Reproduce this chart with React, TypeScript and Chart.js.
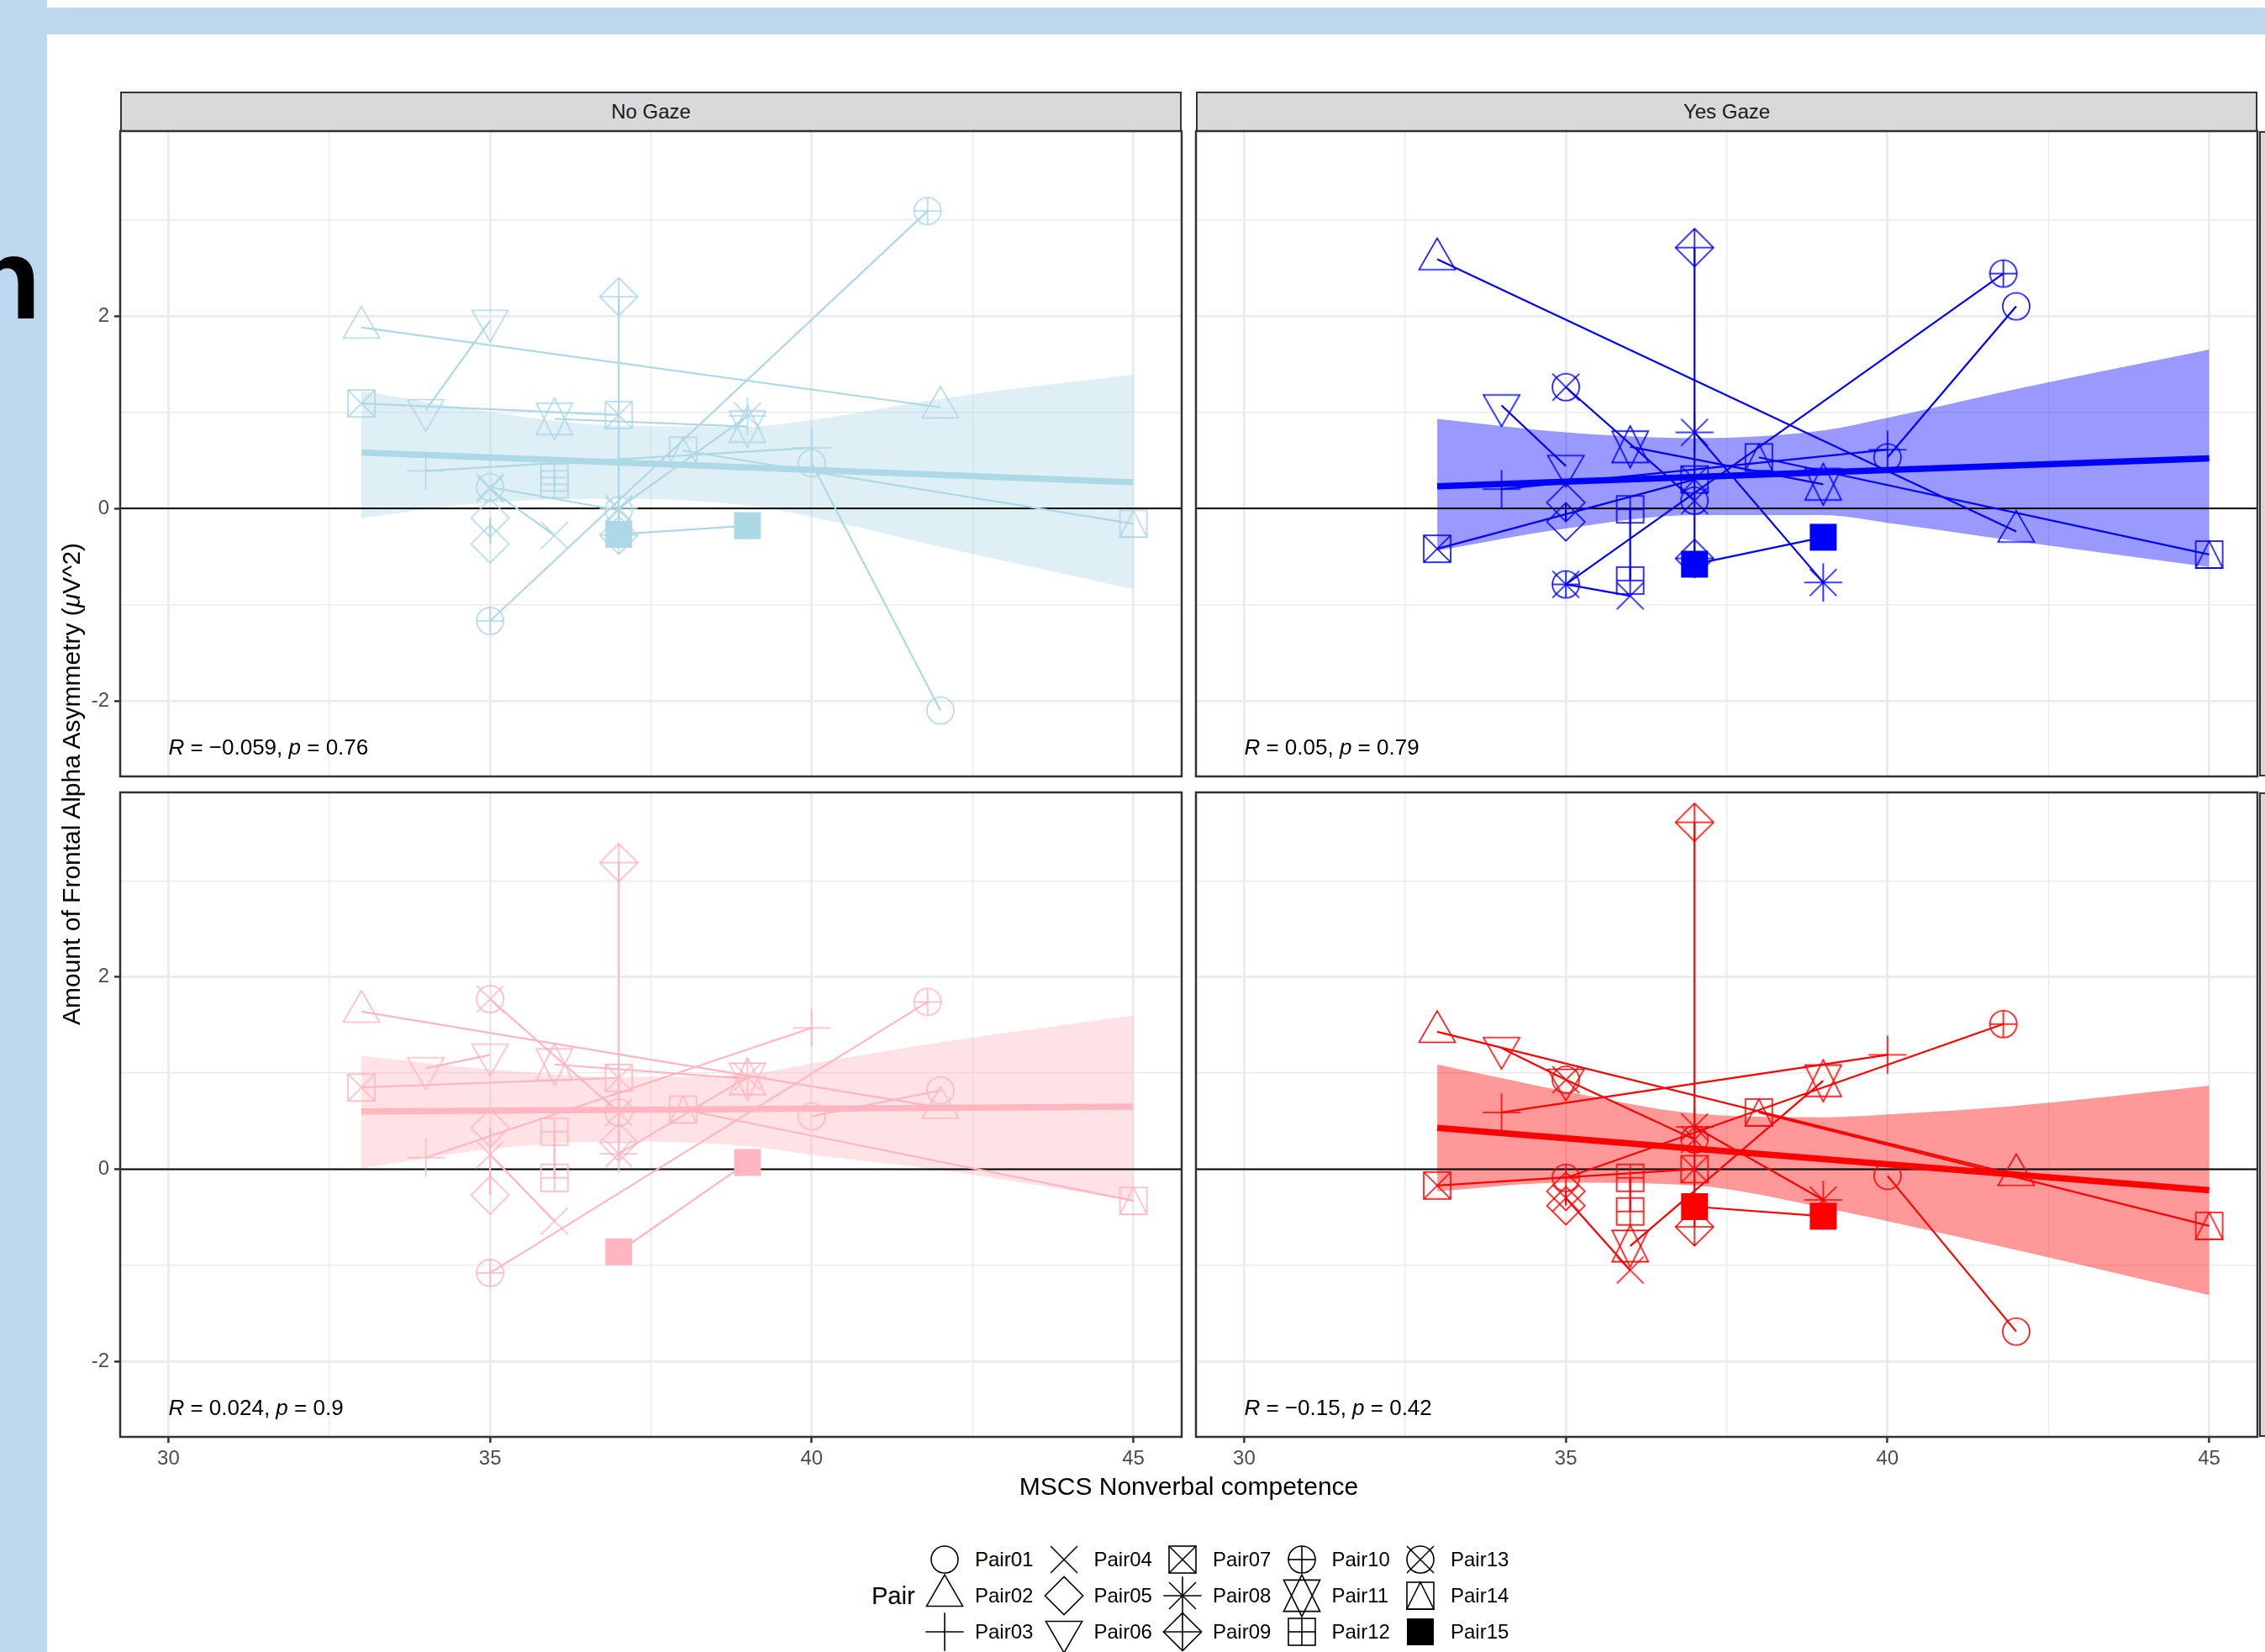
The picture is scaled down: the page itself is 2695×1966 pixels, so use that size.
import React, { useEffect, useRef } from "react";
import { Chart, registerables } from "chart.js";

Chart.register(...registerables);

const FONT = '"Liberation Sans", Arial, Helvetica, sans-serif';

// ---------------- data ----------------
const pairNames = ["Pair01", "Pair02", "Pair03", "Pair04", "Pair05", "Pair06", "Pair07", "Pair08", "Pair09", "Pair10", "Pair11", "Pair12", "Pair13", "Pair14", "Pair15"];
const pairShapes = [1, 2, 3, 4, 5, 6, 7, 8, 9, 10, 11, 12, 13, 14, 15];
const pairXFirst = [40, 33, 34, 35, 35, 34, 33, 37, 37, 35, 36, 36, 35, 38, 37];
const pairXSecond = [42, 42, 40, 36, 35, 35, 37, 39, 37, 41.8, 39, 36, 37, 45, 39];

const noGazeTopFirst = [0.47, 1.88, 0.39, 0.2, -0.1, 1.02, 1.09, 0.0, 2.2, -1.17, 0.93, 0.32, 0.22, 0.6, -0.27];
const noGazeTopSecond = [-2.1, 1.05, 0.63, -0.28, -0.37, 1.95, 0.97, 0.96, -0.28, 3.09, 0.85, 0.25, -0.02, -0.16, -0.18];

const yesGazeTopFirst = [0.53, 2.59, 0.2, -0.79, 0.06, 1.07, -0.42, 0.79, 2.71, -0.79, 0.64, -0.01, 1.26, 0.53, -0.58];
const yesGazeTopSecond = [2.1, -0.24, 0.61, -0.91, -0.14, 0.44, 0.3, -0.77, -0.52, 2.44, 0.25, -0.75, 0.08, -0.48, -0.3];

const noGazeBottomFirst = [0.55, 1.64, 0.12, 0.15, 0.43, 1.05, 0.85, 0.16, 3.19, -1.08, 1.09, 0.39, 1.77, 0.62, -0.86];
const noGazeBottomSecond = [0.82, 0.64, 1.47, -0.54, -0.27, 1.19, 0.95, 0.96, 0.28, 1.74, 0.94, -0.09, 0.59, -0.33, 0.07];

const yesGazeBottomFirst = [-0.07, 1.43, 0.59, -0.3, -0.23, 1.26, -0.17, 0.44, 3.61, -0.09, -0.8, -0.09, 0.93, 0.59, -0.39];
const yesGazeBottomSecond = [-1.69, -0.06, 1.19, -1.05, -0.38, 0.93, 0.0, -0.32, -0.6, 1.51, 0.92, -0.44, 0.31, -0.59, -0.49];

const bandX = [33, 35, 37, 39, 40, 42, 45];
const noGazeTopUpper = [1.22, 1.0, 0.86, 0.85, 0.92, 1.14, 1.39];
const noGazeTopLower = [-0.1, 0.06, 0.1, 0.03, -0.09, -0.4, -0.84];
const yesGazeTopUpper = [0.93, 0.79, 0.73, 0.81, 0.94, 1.24, 1.65];
const yesGazeTopLower = [-0.44, -0.21, -0.07, -0.07, -0.15, -0.34, -0.61];
const noGazeBottomUpper = [1.18, 1.04, 0.96, 0.99, 1.1, 1.32, 1.6];
const noGazeBottomLower = [0.01, 0.21, 0.29, 0.24, 0.15, -0.01, -0.33];
const yesGazeBottomUpper = [1.09, 0.81, 0.58, 0.54, 0.57, 0.66, 0.87];
const yesGazeBottomLower = [-0.23, -0.14, -0.17, -0.4, -0.54, -0.84, -1.31];

const fitX = [33, 45];
const noGazeTopFit = [0.58, 0.27];
const yesGazeTopFit = [0.23, 0.52];
const noGazeBottomFit = [0.6, 0.65];
const yesGazeBottomFit = [0.43, -0.22];

const corR = ["\u22120.059", "0.05", "0.024", "\u22120.15"];
const corP = ["0.76", "0.79", "0.9", "0.42"];
const corLabelX = 30;
const corLabelY = -2.48;

const columnNames = ["No Gaze", "Yes Gaze"];
const xTicks = [30, 32.5, 35, 37.5, 40, 42.5, 45];
const xMajorTicks = [30, 35, 40, 45];
const yTicks = [-2, -1, 0, 1, 2, 3];
const yMajorTicks = [-2, 0, 2];
const xLimits = [29.25, 45.75];
const yLimits = [-2.786, 3.921];
const zeroLineY = 0;

// ---------------- layout ----------------
const colLeft = [143, 1423];
const colRight = [1406, 2686];
const rowTop = [156, 943];
const rowBottom = [924, 1710];

type PanelSpec = {
  col: number;
  row: number;
  color: string;
  band: string;
  first: number[];
  second: number[];
  upper: number[];
  lower: number[];
  fit: number[];
  r: string;
  p: string;
};

const panels: PanelSpec[] = [
  { col: 0, row: 0, color: "#ADD8E6", band: "rgba(173,216,230,0.4)", first: noGazeTopFirst, second: noGazeTopSecond, upper: noGazeTopUpper, lower: noGazeTopLower, fit: noGazeTopFit, r: corR[0], p: corP[0] },
  { col: 1, row: 0, color: "#0000FF", band: "rgba(0,0,255,0.4)", first: yesGazeTopFirst, second: yesGazeTopSecond, upper: yesGazeTopUpper, lower: yesGazeTopLower, fit: yesGazeTopFit, r: corR[1], p: corP[1] },
  { col: 0, row: 1, color: "#FFB6C1", band: "rgba(255,182,193,0.4)", first: noGazeBottomFirst, second: noGazeBottomSecond, upper: noGazeBottomUpper, lower: noGazeBottomLower, fit: noGazeBottomFit, r: corR[2], p: corP[2] },
  { col: 1, row: 1, color: "#FF0000", band: "rgba(255,0,0,0.4)", first: yesGazeBottomFirst, second: yesGazeBottomSecond, upper: yesGazeBottomUpper, lower: yesGazeBottomLower, fit: yesGazeBottomFit, r: corR[3], p: corP[3] },
];

// ---------------- shapes (R pch 1..15) ----------------
const SHAPE_U = 16;
const SHAPE_LW = 1.6;

function drawShape(g: CanvasRenderingContext2D, shape: number, cx: number, cy: number, u: number, color: string, lw: number) {
  g.save();
  g.strokeStyle = color;
  g.fillStyle = color;
  g.lineWidth = lw;
  g.lineJoin = "miter";
  const line = (x1: number, y1: number, x2: number, y2: number) => {
    g.beginPath();
    g.moveTo(x1, y1);
    g.lineTo(x2, y2);
    g.stroke();
  };
  const circle = (rad: number) => {
    g.beginPath();
    g.arc(cx, cy, rad, 0, Math.PI * 2);
    g.stroke();
  };
  const poly = (pts: number[][]) => {
    g.beginPath();
    pts.forEach(([x, y], i) => (i ? g.lineTo(x, y) : g.moveTo(x, y)));
    g.closePath();
    g.stroke();
  };
  const sq = (h: number) => g.strokeRect(cx - h, cy - h, 2 * h, 2 * h);
  const plus = (h: number) => {
    line(cx - h, cy, cx + h, cy);
    line(cx, cy - h, cx, cy + h);
  };
  const cross = (h: number) => {
    line(cx - h, cy - h, cx + h, cy + h);
    line(cx - h, cy + h, cx + h, cy - h);
  };
  const diamond = (h: number) => poly([[cx - h, cy], [cx, cy - h], [cx + h, cy], [cx, cy + h]]);
  const r = 1.555 * u;
  const yc = 0.778 * u;
  const xc = 1.347 * u;
  const s2 = Math.SQRT2 * u;
  switch (shape) {
    case 1: circle(u); break;
    case 2: poly([[cx, cy - r], [cx + xc, cy + yc], [cx - xc, cy + yc]]); break;
    case 3: plus(s2); break;
    case 4: cross(u); break;
    case 5: diamond(s2); break;
    case 6: poly([[cx, cy + r], [cx + xc, cy - yc], [cx - xc, cy - yc]]); break;
    case 7: sq(u); cross(u); break;
    case 8: cross(u); plus(s2); break;
    case 9: diamond(s2); plus(s2); break;
    case 10: circle(u); plus(u); break;
    case 11: {
      const y2 = 0.5 * (yc + r);
      poly([[cx, cy + r], [cx + xc, cy - y2], [cx - xc, cy - y2]]);
      poly([[cx, cy - r], [cx + xc, cy + y2], [cx - xc, cy + y2]]);
      break;
    }
    case 12: sq(u); plus(u); break;
    case 13: circle(u); cross(u); break;
    case 14: sq(u); poly([[cx, cy - u], [cx + u, cy + u], [cx - u, cy + u]]); break;
    case 15: g.fillRect(cx - u, cy - u, 2 * u, 2 * u); break;
  }
  g.restore();
}

function makeSprite(shape: number, color: string) {
  const c = document.createElement("canvas");
  c.width = 64;
  c.height = 64;
  const g = c.getContext("2d")!;
  drawShape(g, shape, 32, 32, SHAPE_U, color, SHAPE_LW);
  return c;
}

// ---------------- panel ----------------
function Panel({ spec }: { spec: PanelSpec }) {
  const canvasRef = useRef<HTMLCanvasElement>(null);
  const annRef = useRef<HTMLDivElement>(null);
  const showY = spec.col === 0;
  const showX = spec.row === 1;
  const padL = showY ? 100 : 3;
  const padB = showX ? 60 : 3;
  const padT = 3;
  const padR = 3;
  const L = colLeft[spec.col];
  const R = colRight[spec.col];
  const T = rowTop[spec.row];
  const B = rowBottom[spec.row];
  const cLeft = L - padL;
  const cTop = T - padT;
  const cW = R - L + padL + padR;
  const cH = B - T + padT + padB;

  useEffect(() => {
    if (!canvasRef.current) return;
    const sprites = pairShapes.map((s) => makeSprite(s, spec.color));
    const datasets: any[] = [];
    datasets.push({
      data: bandX.map((x, i) => ({ x, y: spec.upper[i] })),
      borderColor: "rgba(0,0,0,0)",
      borderWidth: 0,
      pointRadius: 0,
      fill: "+1",
      backgroundColor: spec.band,
      cubicInterpolationMode: "monotone",
      order: 100,
    });
    datasets.push({
      data: bandX.map((x, i) => ({ x, y: spec.lower[i] })),
      borderColor: "rgba(0,0,0,0)",
      borderWidth: 0,
      pointRadius: 0,
      fill: false,
      cubicInterpolationMode: "monotone",
      order: 100,
    });
    datasets.push({
      data: [
        { x: xLimits[0], y: zeroLineY },
        { x: xLimits[1], y: zeroLineY },
      ],
      borderColor: "#000000",
      borderWidth: 2,
      pointRadius: 0,
      fill: false,
      order: 95,
    });
    pairNames.forEach((_, i) => {
      datasets.push({
        data: [
          { x: pairXFirst[i], y: spec.first[i] },
          { x: pairXSecond[i], y: spec.second[i] },
        ],
        borderColor: spec.color,
        borderWidth: 2.2,
        borderCapStyle: "butt",
        pointRadius: 0,
        fill: false,
        order: 60,
      });
    });
    pairNames.forEach((_, i) => {
      datasets.push({
        data: [
          { x: pairXFirst[i], y: spec.first[i] },
          { x: pairXSecond[i], y: spec.second[i] },
        ],
        showLine: false,
        pointStyle: sprites[i],
        pointRadius: 3,
        pointHoverRadius: 3,
        fill: false,
        order: 50,
      });
    });
    datasets.push({
      data: fitX.map((x, i) => ({ x, y: spec.fit[i] })),
      borderColor: spec.color,
      borderWidth: 7.5,
      borderCapStyle: "butt",
      pointRadius: 0,
      fill: false,
      order: 10,
    });

    const borderPlugin = {
      id: "panelBorder",
      afterDraw(chart: any) {
        const { ctx, chartArea: a } = chart;
        ctx.save();
        ctx.strokeStyle = "#333333";
        ctx.lineWidth = 2.5;
        ctx.strokeRect(a.left, a.top, a.right - a.left, a.bottom - a.top);
        ctx.restore();
      },
    };

    const isMajorX = (v: number) => xMajorTicks.includes(v);
    const isMajorY = (v: number) => yMajorTicks.includes(v);

    const chart = new Chart(canvasRef.current, {
      type: "line",
      data: { datasets },
      options: {
        animation: false,
        responsive: false,
        maintainAspectRatio: false,
        devicePixelRatio: 1,
        events: [],
        layout: { padding: { top: padT, right: padR, left: 0, bottom: 0 }, autoPadding: false },
        plugins: { legend: { display: false }, tooltip: { enabled: false } },
        scales: {
          x: {
            type: "linear",
            min: xLimits[0],
            max: xLimits[1],
            afterBuildTicks: (s: any) => {
              s.ticks = xTicks.map((v) => ({ value: v }));
            },
            afterFit: (s: any) => {
              s.height = padB;
              s.paddingLeft = 0;
              s.paddingRight = 0;
              s.paddingTop = 0;
              s.paddingBottom = 0;
            },
            ticks: {
              display: showX,
              autoSkip: false,
              maxRotation: 0,
              minRotation: 0,
              padding: 5,
              color: "#4D4D4D",
              font: { family: FONT, size: 24 },
              callback: (v: any) => (isMajorX(Number(v)) ? String(v) : ""),
            },
            grid: {
              drawOnChartArea: true,
              drawTicks: showX,
              tickLength: 7,
              color: "#EBEBEB",
              lineWidth: (c: any) => (c.tick && isMajorX(c.tick.value) ? 2.8 : 1.4),
              tickColor: (c: any) => (c.tick && isMajorX(c.tick.value) ? "#333333" : "rgba(0,0,0,0)"),
              tickWidth: 2.5,
            },
            border: { display: false },
          },
          y: {
            type: "linear",
            min: yLimits[0],
            max: yLimits[1],
            afterBuildTicks: (s: any) => {
              s.ticks = yTicks.map((v) => ({ value: v }));
            },
            afterFit: (s: any) => {
              s.width = padL;
              s.paddingLeft = 0;
              s.paddingRight = 0;
              s.paddingTop = 0;
              s.paddingBottom = 0;
            },
            ticks: {
              display: showY,
              autoSkip: false,
              padding: 6,
              color: "#4D4D4D",
              font: { family: FONT, size: 24 },
              callback: (v: any) => (isMajorY(Number(v)) ? String(v) : ""),
            },
            grid: {
              drawOnChartArea: true,
              drawTicks: showY,
              tickLength: 7,
              color: "#EBEBEB",
              lineWidth: (c: any) => (c.tick && isMajorY(c.tick.value) ? 2.8 : 1.4),
              tickColor: (c: any) => (c.tick && isMajorY(c.tick.value) ? "#333333" : "rgba(0,0,0,0)"),
              tickWidth: 2.5,
            },
            border: { display: false },
          },
        },
      } as any,
      plugins: [borderPlugin],
    });

    if (annRef.current) {
      const xs: any = chart.scales.x;
      const ys: any = chart.scales.y;
      annRef.current.style.left = `${cLeft + xs.getPixelForValue(corLabelX)}px`;
      annRef.current.style.top = `${cTop + ys.getPixelForValue(corLabelY)}px`;
    }
    return () => chart.destroy();
  }, []);

  return (
    <>
      <canvas
        ref={canvasRef}
        width={cW}
        height={cH}
        style={{ position: "absolute", left: cLeft, top: cTop, width: cW, height: cH }}
      />
      <div
        ref={annRef}
        style={{
          position: "absolute",
          transform: "translateY(-50%)",
          fontSize: 26,
          lineHeight: 1,
          whiteSpace: "nowrap",
          color: "#000000",
          fontFamily: FONT,
        }}
      >
        <i>R</i> = {spec.r}, <i>p</i> = {spec.p}
      </div>
    </>
  );
}

function LegendKey({ shape, x, y }: { shape: number; x: number; y: number }) {
  const ref = useRef<HTMLCanvasElement>(null);
  useEffect(() => {
    const c = ref.current;
    if (!c) return;
    const g = c.getContext("2d")!;
    g.clearRect(0, 0, 64, 64);
    drawShape(g, shape, 32, 32, SHAPE_U, "#000000", SHAPE_LW);
  }, []);
  return (
    <canvas
      ref={ref}
      width={64}
      height={64}
      style={{ position: "absolute", left: x - 32, top: y - 32, width: 64, height: 64 }}
    />
  );
}

const legendColX0 = 1124;
const legendColStep = 141.5;
const legendRowY0 = 1856;
const legendRowStep = 43;

export default function App() {
  return (
    <div
      style={{
        position: "fixed",
        left: 0,
        top: 0,
        width: 2695,
        height: 1966,
        overflow: "hidden",
        background: "#FFFFFF",
        fontFamily: FONT,
      }}
    >
      {/* decorative frame from the source slide */}
      <div style={{ position: "absolute", left: 0, top: 9, width: 2695, height: 32, background: "#BDD7EE" }} />
      <div style={{ position: "absolute", left: 0, top: 0, width: 56, height: 1966, background: "#BDD7EE" }} />
      <div
        style={{
          position: "absolute",
          left: -35,
          top: 263,
          fontSize: 137,
          fontWeight: "bold",
          lineHeight: 1,
          color: "#000000",
          fontFamily: FONT,
        }}
      >
        n
      </div>

      {/* strips */}
      {columnNames.map((name, col) => (
        <div
          key={name}
          style={{
            position: "absolute",
            left: colLeft[col],
            top: 109,
            width: colRight[col] - colLeft[col],
            height: 48,
            background: "#D9D9D9",
            border: "2.5px solid #333333",
            boxSizing: "border-box",
            display: "flex",
            alignItems: "center",
            justifyContent: "center",
            fontSize: 24,
            color: "#1A1A1A",
          }}
        >
          {name}
        </div>
      ))}
      {rowTop.map((t, row) => (
        <div
          key={"rs" + row}
          style={{
            position: "absolute",
            left: 2688,
            top: t,
            width: 60,
            height: rowBottom[row] - t,
            background: "#D9D9D9",
            border: "2.5px solid #333333",
            boxSizing: "border-box",
          }}
        />
      ))}

      {panels.map((p, i) => (
        <Panel key={i} spec={p} />
      ))}

      {/* axis titles */}
      <div
        style={{
          position: "absolute",
          left: 1414.5,
          top: 1769,
          transform: "translate(-50%, -50%)",
          fontSize: 30,
          whiteSpace: "nowrap",
          color: "#000000",
        }}
      >
        MSCS Nonverbal competence
      </div>
      <div
        style={{
          position: "absolute",
          left: 85,
          top: 933,
          transform: "translate(-50%, -50%) rotate(-90deg)",
          fontSize: 30,
          whiteSpace: "nowrap",
          color: "#000000",
        }}
      >
        Amount of Frontal Alpha Asymmetry (<i>μ</i>V^2)
      </div>

      {/* legend */}
      <div
        style={{
          position: "absolute",
          left: 1037,
          top: legendRowY0 + legendRowStep,
          transform: "translateY(-50%)",
          fontSize: 29,
          lineHeight: 1,
          color: "#000000",
        }}
      >
        Pair
      </div>
      {pairNames.map((name, i) => {
        const col = Math.floor(i / 3);
        const row = i % 3;
        const kx = legendColX0 + col * legendColStep;
        const ky = legendRowY0 + row * legendRowStep;
        return (
          <React.Fragment key={name}>
            <LegendKey shape={pairShapes[i]} x={kx} y={ky} />
            <div
              style={{
                position: "absolute",
                left: kx + 36,
                top: ky,
                transform: "translateY(-50%)",
                fontSize: 24,
                lineHeight: 1,
                color: "#000000",
                whiteSpace: "nowrap",
              }}
            >
              {name}
            </div>
          </React.Fragment>
        );
      })}
    </div>
  );
}
